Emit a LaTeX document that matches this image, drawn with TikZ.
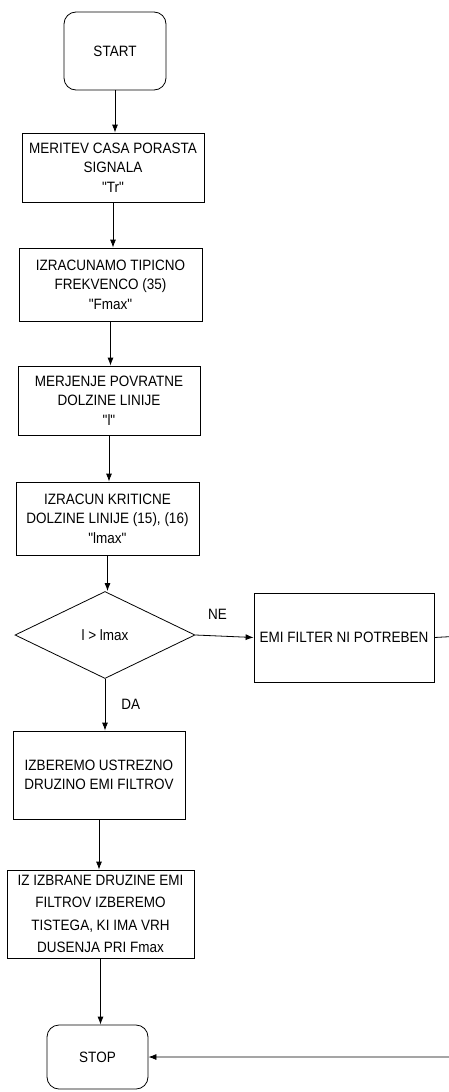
\documentclass[tikz,border=0pt]{standalone}
\usepackage{fontspec}
\setmainfont[FakeStretch=0.9, Ligatures=TeXOff]{Liberation Sans}
\usetikzlibrary{shapes.geometric,arrows.meta}

\begin{document}
\begin{tikzpicture}[x=1pt, y=-1pt, line width=0.8pt,
  box/.style={draw, align=center, inner sep=0pt, font=\fontsize{15}{19.5}\selectfont},
  term/.style={box, rounded corners=12pt},
  arr/.style={-{Latex[length=8pt,width=6pt]}}]
\useasboundingbox (0,0) rectangle (449,1092);

% Start and stop
\node[term, minimum width=102, minimum height=78] (start) at (115,51) {START};
\node[term, minimum width=101, minimum height=64] (stop) at (97.5,1057) {STOP};

% Steps
\node[box, minimum width=182, minimum height=69] (tr) at (113,167.5) {MERITEV CASA PORASTA\\SIGNALA\\"Tr"};
\node[box, minimum width=183, minimum height=73] (fmax) at (110.5,284.5) {IZRACUNAMO TIPICNO\\FREKVENCO (35)\\"Fmax"};
\node[box, minimum width=182, minimum height=69] (len) at (109,400.5) {MERJENJE POVRATNE\\DOLZINE LINIJE\\"l"};
\node[box, minimum width=183, minimum height=73] (lmax) at (107.5,518.5) {IZRACUN KRITICNE\\DOLZINE LINIJE (15), (16)\\"lmax"};

% Decision
\node[box, diamond, minimum width=180, minimum height=87] (cmp) at (105,635) {l > lmax};
\node[box, minimum width=180, minimum height=89] (nofilt) at (344,637.5) {EMI FILTER NI POTREBEN};

\node[box, minimum width=172, minimum height=88] (family) at (99,775) {IZBEREMO USTREZNO\\DRUZINO EMI FILTROV};
\node[box, minimum width=187, minimum height=88, font=\fontsize{15}{22.5}\selectfont] (pick) at (100.5,914) {IZ IZBRANE DRUZINE EMI\\FILTROV IZBEREMO\\TISTEGA, KI IMA VRH\\DUSENJA PRI Fmax};

% Connectors
\draw[arr] (start.south) -- (start.south |- tr.north);
\draw[arr] (tr.south) -- (tr.south |- fmax.north);
\draw[arr] (fmax.south) -- (fmax.south |- len.north);
\draw[arr] (len.south) -- (len.south |- lmax.north);
\draw[arr] (lmax.south) -- (lmax.south |- cmp.north);
\draw[arr] (cmp.east) -- (nofilt.west) node[pos=0.38, above=16pt, inner sep=0pt, font=\fontsize{15}{17}\selectfont] {NE};
\draw[arr] (cmp.south) -- (cmp.south |- family.north) node[midway, right=16pt, inner sep=0pt, font=\fontsize{15}{17}\selectfont] {DA};
\draw[arr] (family.south) -- (family.south |- pick.north);
\draw[arr] (pick.south) -- (pick.south |- stop.north);

\coordinate (back) at (462,636);
\draw[arr] (nofilt.east) -- (back) |- (stop.east);
\end{tikzpicture}
\end{document}
